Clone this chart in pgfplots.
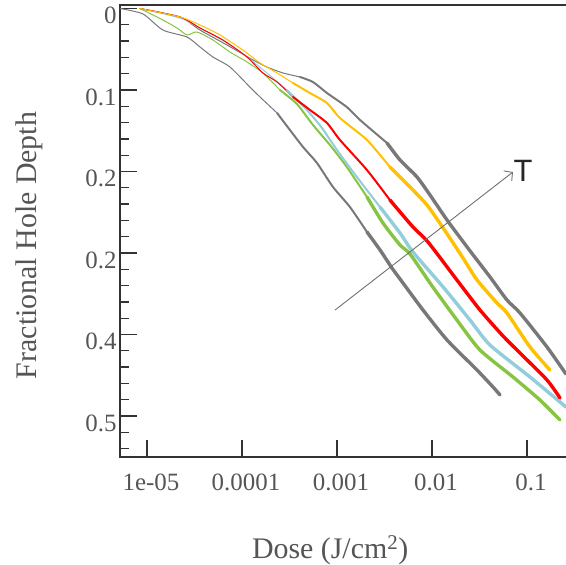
\documentclass[border=0pt]{standalone}
\usepackage{fontspec}
\setmainfont{Liberation Serif}
\newfontfamily\arialfont{Liberation Sans}
\usepackage{pgfplots}
\pgfplotsset{compat=1.18}
\usetikzlibrary{arrows.meta}
\definecolor{axgray}{HTML}{333333}
\definecolor{tlgray}{HTML}{555555}
\definecolor{cgray}{HTML}{787878}
\definecolor{cgreen}{HTML}{88C443}
\definecolor{cblue}{HTML}{92CDDC}
\definecolor{cred}{HTML}{FF0000}
\definecolor{corange}{HTML}{FFC000}
\definecolor{arrgray}{HTML}{707070}

% dark grey (lowest T)
\pgfplotstableread{
x y
5.20e-6 0.0
9.08e-6 0.0067
1.47e-5 0.0264
2.64e-5 0.0350
3.61e-5 0.0472
4.95e-5 0.0595
7.48e-5 0.0718
1.21e-4 0.0963
1.55e-4 0.1086
2.34e-4 0.1282
}\dgA
\pgfplotstableread{
x y
2.34e-4 0.1282
3.20e-4 0.1491
4.39e-4 0.1699
6.16e-4 0.1896
9.08e-4 0.2190
1.37e-3 0.2436
2.07e-3 0.2742
}\dgB
\pgfplotstableread{
x y
2.07e-3 0.2742
2.84e-3 0.2963
3.79e-3 0.3184
4.61e-3 0.3319
8.04e-3 0.3699
1.44e-2 0.4067
2.98e-2 0.4436
4.39e-2 0.4644
5.20e-2 0.4742
}\dgC
% green
\pgfplotstableread{
x y
8.44e-6 0.0
1.47e-5 0.0141
2.07e-5 0.0239
2.64e-5 0.0325
3.36e-5 0.0288
4.95e-5 0.0387
7.48e-5 0.0534
1.13e-4 0.0656
1.66e-4 0.0791
2.51e-4 0.1000
}\grA
\pgfplotstableread{
x y
2.51e-4 0.1000
3.79e-4 0.1172
5.59e-4 0.1429
8.44e-4 0.1675
1.27e-3 0.1945
2.07e-3 0.2313
}\grB
\pgfplotstableread{
x y
2.07e-3 0.2313
3.05e-3 0.2632
4.61e-3 0.2902
5.87e-3 0.3012
1.02e-2 0.3417
1.83e-2 0.3822
3.20e-2 0.4190
7.12e-2 0.4521
0.137 0.4804
0.2225 0.5049
}\grC
% light blue
\pgfplotstableread{
x y
8.44e-6 0.0
2.23e-5 0.0117
3.61e-5 0.0239
6.95e-5 0.0423
1.13e-4 0.0595
1.83e-4 0.0791
2.98e-4 0.1000
}\blA
\pgfplotstableread{
x y
2.98e-4 0.1000
4.83e-4 0.1245
6.95e-4 0.1466
1.0e-3 0.1736
1.62e-3 0.2067
2.84e-3 0.2436
}\blB
\pgfplotstableread{
x y
2.84e-3 0.2436
4.61e-3 0.2755
6.31e-3 0.2988
1.31e-2 0.3417
2.51e-2 0.3822
4.08e-2 0.4129
0.1075 0.4521
0.2574 0.4890
}\blC
% red
\pgfplotstableread{
x y
8.44e-6 0.0
2.23e-5 0.0104
3.61e-5 0.0239
6.31e-5 0.0387
1.13e-4 0.0595
1.66e-4 0.0791
2.34e-4 0.0902
3.44e-4 0.1086
}\rdA
\pgfplotstableread{
x y
3.44e-4 0.1086
5.20e-4 0.1245
7.85e-4 0.1405
1.075e-3 0.1613
2.07e-3 0.1982
3.61e-3 0.2350
}\rdB
\pgfplotstableread{
x y
3.61e-3 0.2350
6.31e-3 0.2681
9.08e-3 0.2865
1.83e-2 0.3331
3.20e-2 0.3699
5.59e-2 0.4018
8.44e-2 0.4227
0.1624 0.4558
0.2225 0.4779
}\rdC
% orange
\pgfplotstableread{
x y
8.44e-6 0.0
2.23e-5 0.0104
3.61e-5 0.0202
5.87e-5 0.0325
1.02e-4 0.0509
1.55e-4 0.0669
2.34e-4 0.0791
3.44e-4 0.0914
}\orA
\pgfplotstableread{
x y
3.44e-4 0.0914
5.20e-4 0.1037
7.85e-4 0.1160
1.075e-3 0.1344
2.07e-3 0.1613
3.61e-3 0.1945
}\orB
\pgfplotstableread{
x y
3.61e-3 0.1945
5.87e-3 0.2190
8.86e-3 0.2411
1.31e-2 0.2693
2.12e-2 0.3061
2.98e-2 0.3331
4.83e-2 0.3613
6.16e-2 0.3736
0.1075 0.4153
0.1747 0.4436
}\orC
% grey (highest T)
\pgfplotstableread{
x y
8.44e-6 0.0
2.23e-5 0.0104
3.61e-5 0.0264
6.95e-5 0.0448
1.31e-4 0.0632
1.83e-4 0.0718
2.70e-4 0.0791
4.08e-4 0.0840
}\guA
\pgfplotstableread{
x y
4.08e-4 0.0840
5.59e-4 0.0902
7.85e-4 0.1037
1.27e-3 0.1209
1.75e-3 0.1368
3.36e-3 0.1650
}\guB
\pgfplotstableread{
x y
3.36e-3 0.1650
4.61e-3 0.1859
6.95e-3 0.2067
9.53e-3 0.2288
1.44e-2 0.2595
2.34e-2 0.2926
4.08e-2 0.3294
6.16e-2 0.3577
8.44e-2 0.3736
0.1624 0.4153
0.2574 0.4485
}\guC

\begin{document}
\begin{tikzpicture}
\begin{axis}[
  name=ax, at={(0,0)}, anchor=south west,
  scale only axis, width=450bp, height=452bp,
  xmode=log, xmin=5.2e-6, xmax=0.2836,
  ymin=-0.0043, ymax=0.5503, y dir=reverse,
  axis line style={draw=axgray, line width=1.3bp},
  xtick={1e-5,1e-4,1e-3,1e-2,1e-1},
  xticklabels={1e-05,0.0001,0.001,0.01,0.1},
  xminorticks=false,
  ytick={0,0.1,0.2,0.3,0.4,0.5},
  yticklabels={0,0.1,0.2,0.2,0.4,0.5},
  minor ytick={0.02,0.04,0.06,0.08,0.12,0.14,0.16,0.18,0.22,0.24,0.26,0.28,0.32,0.34,0.36,0.38,0.42,0.44,0.46,0.48,0.52,0.54},
  xtick pos=bottom, ytick pos=left,
  tick align=inside,
  major tick length=17bp, minor tick length=9bp,
  every tick/.style={draw=axgray, line width=1.3bp},
  tick label style={font=\fontsize{25}{30}\selectfont, text=tlgray},
  xticklabel style={yshift=-13bp, xshift=4bp},
  yticklabel style={yshift=-7bp},
  xlabel={Dose (J/cm\textsuperscript{2})},
  ylabel={Fractional Hole Depth},
  xlabel style={at={(axis description cs:0.467,-0.2235)}, anchor=base, font=\fontsize{30}{36}\selectfont, text=tlgray},
  ylabel style={at={(axis description cs:-0.1845,0.468)}, anchor=base, font=\fontsize{30}{36}\selectfont, text=tlgray},
  clip=true,
  every axis plot/.append style={line join=round, line cap=round, smooth, tension=0.4},
]
% thin early parts
\addplot[cgray, line width=1bp] table {\dgA};
\addplot[cgray, line width=1bp] table {\guA};
\addplot[cgreen, line width=1bp] table {\grA};
\addplot[cblue, line width=1bp] table {\blA};
\addplot[cred, line width=1bp] table {\rdA};
\addplot[corange, line width=1bp] table {\orA};
% middle parts
\addplot[cgray, line width=2bp] table {\dgB};
\addplot[cgray, line width=2bp] table {\guB};
\addplot[cgreen, line width=2bp] table {\grB};
\addplot[cblue, line width=2bp] table {\blB};
\addplot[cred, line width=2bp] table {\rdB};
\addplot[corange, line width=2bp] table {\orB};
% thick late parts
\addplot[cgray, line width=3.4bp] table {\dgC};
\addplot[cgray, line width=3.4bp] table {\guC};
\addplot[cgreen, line width=3.4bp] table {\grC};
\addplot[cblue, line width=3.4bp] table {\blC};
\addplot[cred, line width=3.4bp] table {\rdC};
\addplot[corange, line width=3.4bp] table {\orC};
% arrow
\draw[arrgray, line width=0.9bp, -{Straight Barb[length=6bp,width=13bp]}]
  (axis cs:9.53e-4,0.370) -- (axis cs:7.12e-2,0.2006);
\node[font=\arialfont\fontsize{31}{36}\selectfont, text=black!85] at (axis cs:9.08e-2,0.1994) {T};
\end{axis}
\pgfresetboundingbox
\path[use as bounding box] ([shift={(-120bp,-108bp)}]ax.south west) rectangle ([shift={(446bp,457bp)}]ax.south west);
\end{tikzpicture}
\end{document}
